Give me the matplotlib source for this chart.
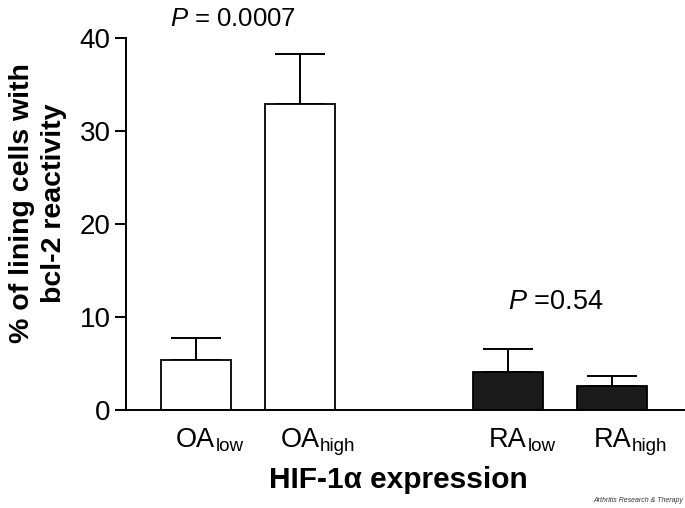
import matplotlib
matplotlib.use('Agg')
import matplotlib.pyplot as plt

# data
groups = ['OA', 'OA', 'RA', 'RA']
subs = ['low', 'high', 'low', 'high']
positions = [1, 2, 4, 5]
means = [5.4, 32.9, 4.05, 2.6]
errors = [2.35, 5.4, 2.55, 1.05]
colors = ['white', 'white', '#1a1a1a', '#1a1a1a']
y_ticks = [0, 10, 20, 30, 40]

plt.rcParams['font.family'] = ['Liberation Sans', 'DejaVu Sans']
plt.rcParams['mathtext.fontset'] = 'custom'
plt.rcParams['mathtext.rm'] = 'Liberation Sans'
plt.rcParams['mathtext.it'] = 'Liberation Sans:italic'

fig = plt.figure(figsize=(6.85, 5.08), dpi=100)
ax = fig.add_axes([0.184, 0.193, 0.816, 0.732])

ax.bar(positions, means, width=0.67, color=colors, edgecolor='black', linewidth=1.3, zorder=2)
ax.errorbar(positions, means, yerr=[[0] * 4, errors], fmt='none', ecolor='black',
            elinewidth=1.4, capsize=18, capthick=1.4, zorder=1)

ax.set_xlim(0.33, 5.7)
ax.set_ylim(0, 40)
ax.set_yticks(y_ticks)
ax.set_xticks([])
ax.tick_params(axis='y', labelsize=20, length=8, width=1.4, pad=3)
for s in ['top', 'right']:
    ax.spines[s].set_visible(False)
for s in ['left', 'bottom']:
    ax.spines[s].set_linewidth(1.4)

# group labels: main letters centred on the bar, subscript hanging to the right
for x, g, sb in zip(positions, groups, subs):
    main = ax.text(x, -0.1, g, fontsize=19.5, ha='center', va='baseline',
                   transform=ax.get_xaxis_transform())
    ax.annotate(sb, xy=(1, 0), xycoords=main, xytext=(0.5, -1.5), textcoords='offset points',
                fontsize=13.5, ha='left', va='bottom')

ax.set_ylabel('% of lining cells with\nbcl-2 reactivity', fontsize=20.5, fontweight='bold',
              linespacing=1.3)
ax.yaxis.set_label_coords(-0.106, 0.556)
ax.set_xlabel('HIF-1α expression', fontsize=21.5, fontweight='bold')
ax.xaxis.set_label_coords(0.487, -0.151)

ax.text(1.36, 42.1, '$P$ = 0.0007', fontsize=18.5, ha='center', va='center', clip_on=False)
ax.text(4.46, 11.6, '$P$ =0.54', fontsize=19.5, ha='center', va='center')

fig.text(0.997, 0.008, 'Arthritis Research & Therapy', fontsize=5, style='italic',
         ha='right', va='bottom', color='#333333')

fig.savefig('out.png', dpi=100)
